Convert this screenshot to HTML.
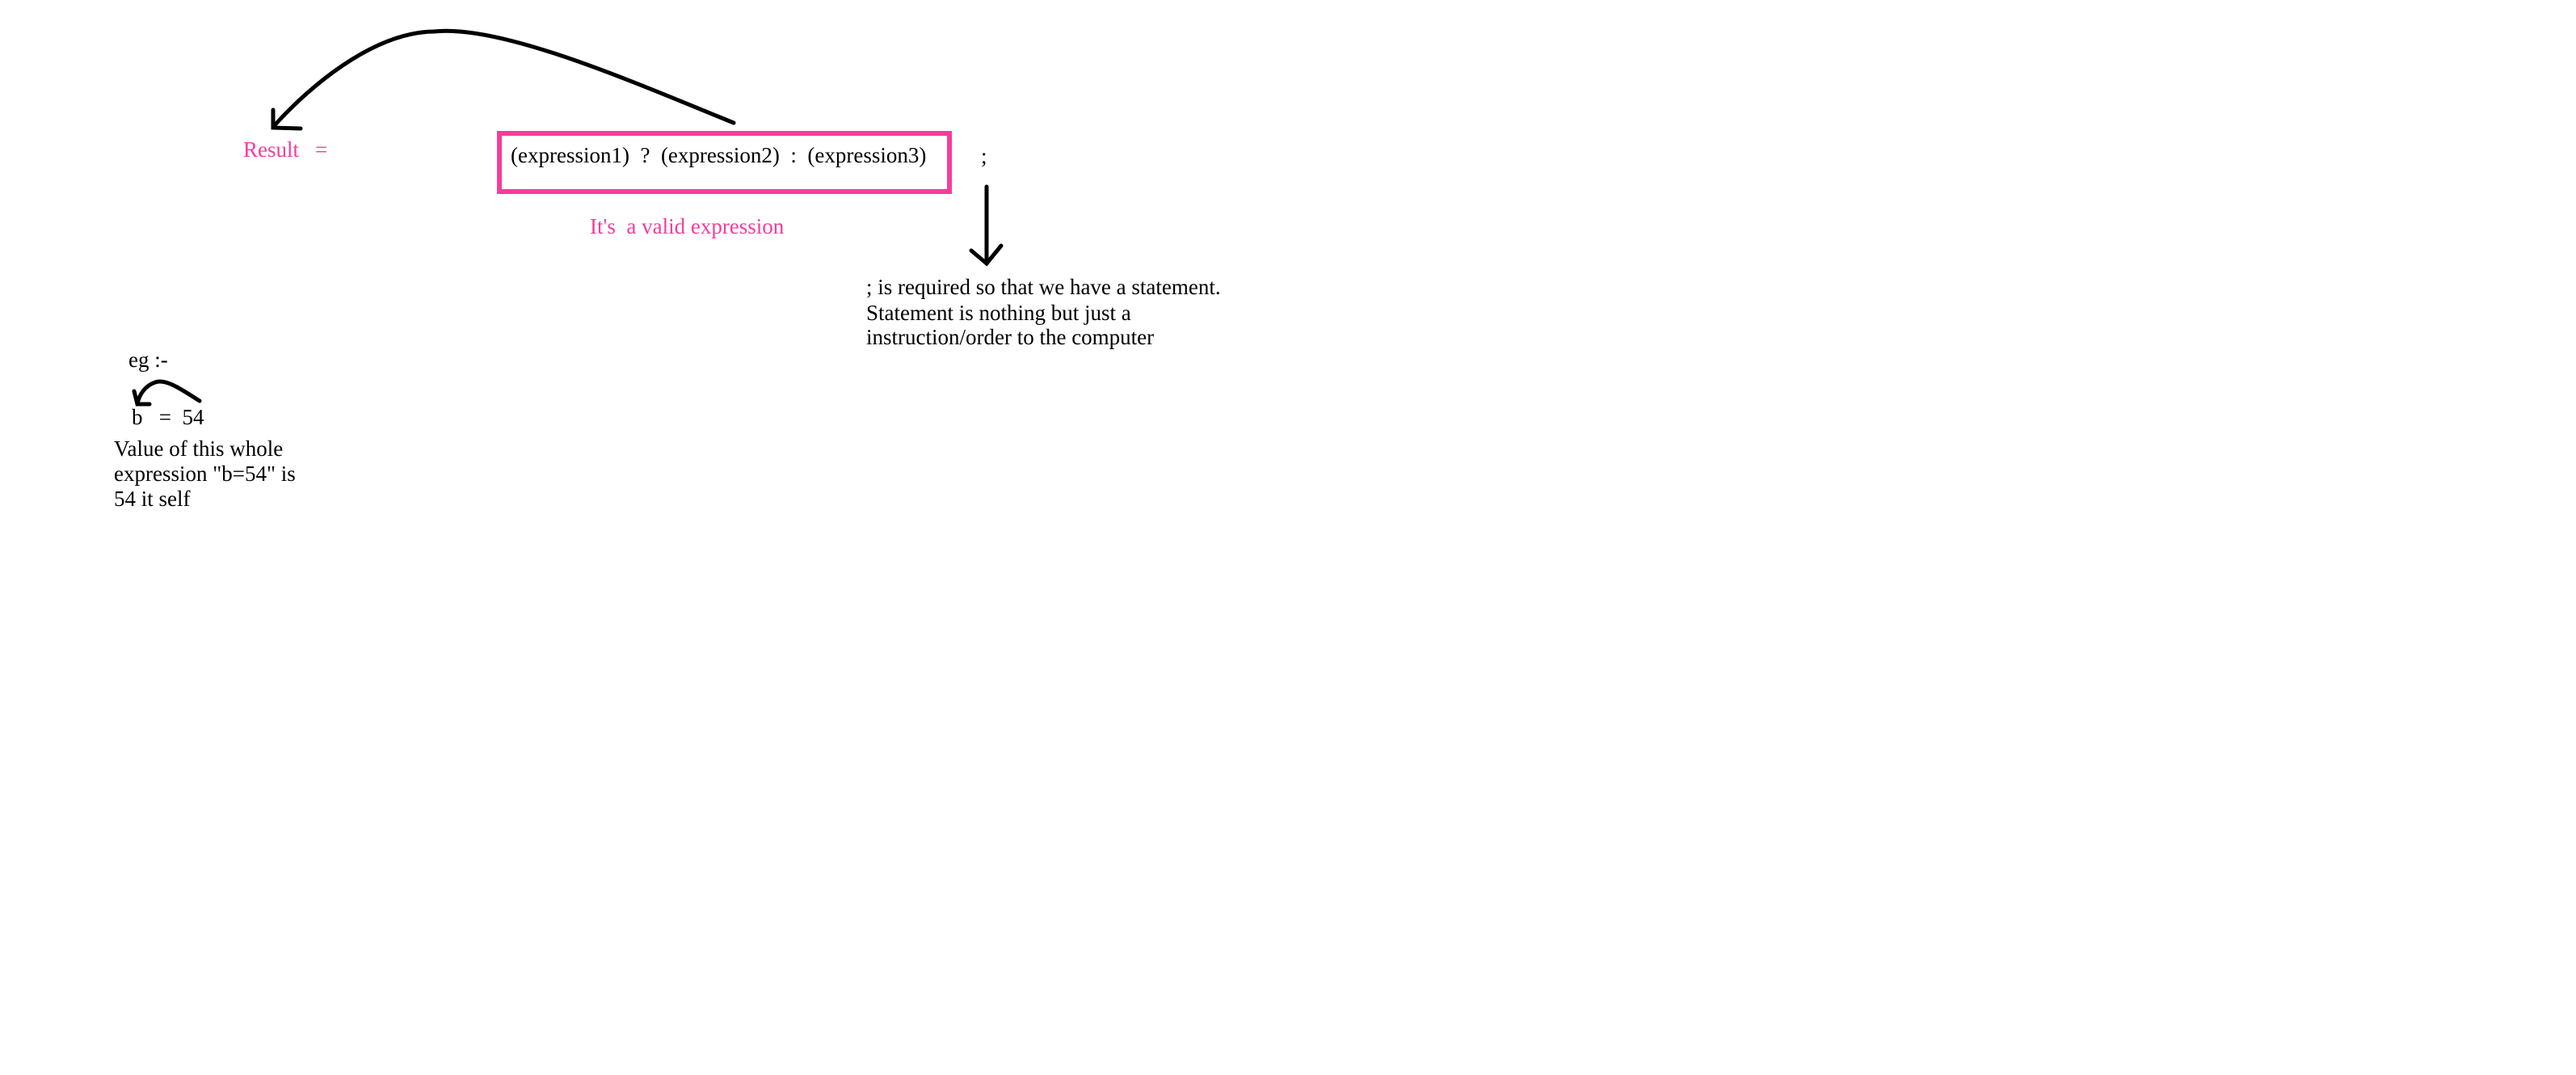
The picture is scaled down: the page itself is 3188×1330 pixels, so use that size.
<!DOCTYPE html>
<html><head><meta charset="utf-8"><style>
html,body{margin:0;padding:0;background:#fff;}
body{width:3188px;height:1330px;position:relative;overflow:hidden;font-family:"Liberation Serif",serif;font-size:27px;}
.t{position:absolute;white-space:pre;line-height:1;}
.p{color:#f73c9c;}
</style></head><body>
<svg width="3188" height="1330" style="position:absolute;left:0;top:0">
<g fill="none" stroke="#000" stroke-width="5" stroke-linecap="round">
<path d="M908 152 C 780 100, 620 30, 537 39 C 460 40, 380 110, 338 157"/>
<path d="M338 136 L338 158 L372 159"/>
<path d="M1221 231 L1221 326"/>
<path d="M1202 310 L1221 326 L1239 304"/>
<path d="M247 496 C 225 482, 205 468, 192 473 C 180 477, 172 488, 170 500"/>
<path d="M166 484 L170 500 L185 500"/>
</g>
<rect x="618" y="165" width="557" height="72" fill="none" stroke="#f73c9c" stroke-width="6"/>
</svg>
<div class="t p" style="left:301px;top:172px;">Result</div>
<div class="t p" style="left:390px;top:172px;">=</div>
<div class="t" style="left:632px;top:179px;">(expression1)  ?  (expression2)  :  (expression3)</div>
<div class="t" style="left:1214px;top:180px;">;</div>
<div class="t p" style="left:730px;top:267px;">It's  a valid expression</div>
<div class="t" style="left:1072px;top:342px;">; is required so that we have a statement.</div>
<div class="t" style="left:1072px;top:374px;">Statement is nothing but just a</div>
<div class="t" style="left:1072px;top:404px;">instruction/order to the computer</div>
<div class="t" style="left:159px;top:432px;">eg :-</div>
<div class="t" style="left:163px;top:503px;">b   =  54</div>
<div class="t" style="left:141px;top:542px;">Value of this whole</div>
<div class="t" style="left:141px;top:573px;">expression "b=54" is</div>
<div class="t" style="left:141px;top:604px;">54 it self</div>
</body></html>
